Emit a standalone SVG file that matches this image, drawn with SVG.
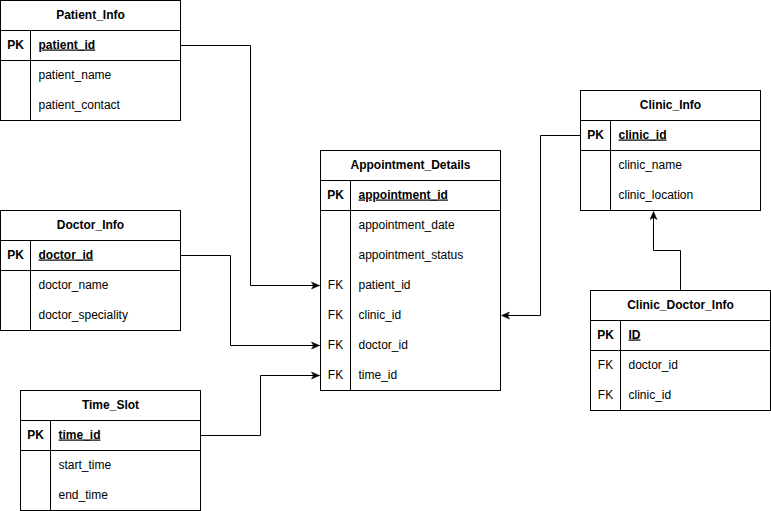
<svg xmlns="http://www.w3.org/2000/svg" width="771" height="511" viewBox="0 0 771 511">
<style>
.box{fill:#fff;stroke:#000;stroke-width:1}
.ln{fill:none;stroke:#000;stroke-width:1}
.t{font-family:"Liberation Sans",Arial,sans-serif;font-size:12px;fill:#000}
.h{font-weight:bold;text-anchor:middle}
.k{font-weight:bold;text-anchor:middle}
.pk{font-weight:bold;text-decoration:underline}
.c{fill:none;stroke:#000;stroke-width:1}
</style>
<defs>
<marker id="arr" markerUnits="userSpaceOnUse" markerWidth="10" markerHeight="10" viewBox="0 0 10 10" refX="10" refY="5" orient="auto">
<path d="M2,1.5 L10,5 L2,8.5 L4,5 Z" fill="#000" stroke="#000" stroke-width="0.5"/>
</marker>
</defs>
<rect x="0" y="0" width="771" height="511" fill="#fff"/>
<g transform="translate(0.5,0.5)">
<g id="connectors">
<path class="c" d="M180,45 H250 V285 H319" marker-end="url(#arr)"/>
<path class="c" d="M180,255 H230 V345 H319" marker-end="url(#arr)"/>
<path class="c" d="M200,435 H260 V375 H319" marker-end="url(#arr)"/>
<path class="c" d="M580,135 H540 V315 H501" marker-end="url(#arr)"/>
<path class="c" d="M680,290 V250 H653 V211" marker-end="url(#arr)"/>
</g>
<g id="Patient_Info">
<rect class="box" x="0" y="0" width="180" height="120"/>
<path class="ln" d="M0,30 H180 M0,60 H180 M30,30 V120"/>
<text class="t h" x="90" y="18">Patient_Info</text>
<text class="t k" x="15" y="48">PK</text>
<text class="t pk" x="38" y="48">patient_id</text>
<text class="t" x="38" y="78">patient_name</text>
<text class="t" x="38" y="108">patient_contact</text>
</g>
<g id="Doctor_Info">
<rect class="box" x="0" y="210" width="180" height="120"/>
<path class="ln" d="M0,240 H180 M0,270 H180 M30,240 V330"/>
<text class="t h" x="90" y="228">Doctor_Info</text>
<text class="t k" x="15" y="258">PK</text>
<text class="t pk" x="38" y="258">doctor_id</text>
<text class="t" x="38" y="288">doctor_name</text>
<text class="t" x="38" y="318">doctor_speciality</text>
</g>
<g id="Time_Slot">
<rect class="box" x="20" y="390" width="180" height="120"/>
<path class="ln" d="M20,420 H200 M20,450 H200 M50,420 V510"/>
<text class="t h" x="110" y="408">Time_Slot</text>
<text class="t k" x="35" y="438">PK</text>
<text class="t pk" x="58" y="438">time_id</text>
<text class="t" x="58" y="468">start_time</text>
<text class="t" x="58" y="498">end_time</text>
</g>
<g id="Appointment_Details">
<rect class="box" x="320" y="150" width="180" height="240"/>
<path class="ln" d="M320,180 H500 M320,210 H500 M350,180 V390"/>
<text class="t h" x="410" y="168">Appointment_Details</text>
<text class="t k" x="335" y="198">PK</text>
<text class="t pk" x="358" y="198">appointment_id</text>
<text class="t" x="358" y="228">appointment_date</text>
<text class="t" x="358" y="258">appointment_status</text>
<text class="t" x="335" y="288" text-anchor="middle">FK</text>
<text class="t" x="358" y="288">patient_id</text>
<text class="t" x="335" y="318" text-anchor="middle">FK</text>
<text class="t" x="358" y="318">clinic_id</text>
<text class="t" x="335" y="348" text-anchor="middle">FK</text>
<text class="t" x="358" y="348">doctor_id</text>
<text class="t" x="335" y="378" text-anchor="middle">FK</text>
<text class="t" x="358" y="378">time_id</text>
</g>
<g id="Clinic_Info">
<rect class="box" x="580" y="90" width="180" height="120"/>
<path class="ln" d="M580,120 H760 M580,150 H760 M610,120 V210"/>
<text class="t h" x="670" y="108">Clinic_Info</text>
<text class="t k" x="595" y="138">PK</text>
<text class="t pk" x="618" y="138">clinic_id</text>
<text class="t" x="618" y="168">clinic_name</text>
<text class="t" x="618" y="198">clinic_location</text>
</g>
<g id="Clinic_Doctor_Info">
<rect class="box" x="590" y="290" width="180" height="120"/>
<path class="ln" d="M590,320 H770 M590,350 H770 M620,320 V410"/>
<text class="t h" x="680" y="308">Clinic_Doctor_Info</text>
<text class="t k" x="605" y="338">PK</text>
<text class="t pk" x="628" y="338">ID</text>
<text class="t" x="605" y="368" text-anchor="middle">FK</text>
<text class="t" x="628" y="368">doctor_id</text>
<text class="t" x="605" y="398" text-anchor="middle">FK</text>
<text class="t" x="628" y="398">clinic_id</text>
</g>
</g>
</svg>
